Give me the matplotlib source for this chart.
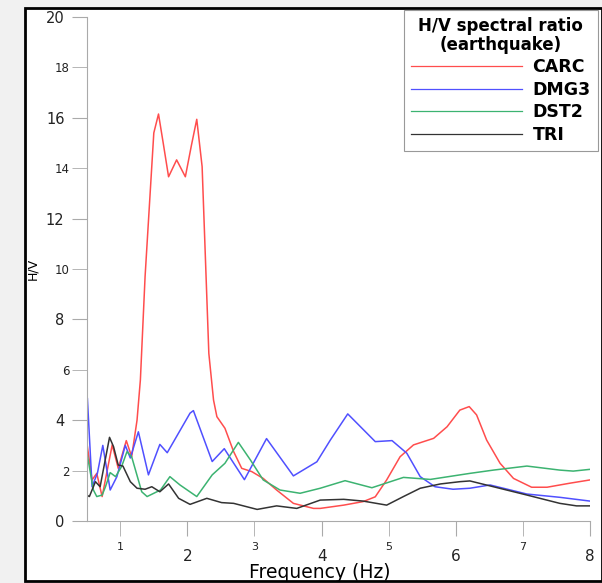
import numpy as np
import matplotlib.pyplot as plt
from matplotlib.patches import Rectangle

# H/V spectral ratio curves
carc_f = [0.5, 0.58, 0.65, 0.73, 0.88, 0.97, 1.09, 1.17, 1.25, 1.30, 1.37, 1.50, 1.57, 1.64, 1.72,
          1.84, 1.97, 2.06, 2.14, 2.22, 2.32, 2.39, 2.44, 2.56, 2.69, 2.81, 2.96, 3.13, 3.33, 3.58,
          3.88, 3.98, 4.33, 4.62, 4.80, 4.97, 5.17, 5.37, 5.67, 5.87, 6.06, 6.20, 6.31, 6.46, 6.66,
          6.86, 7.13, 7.36, 7.70, 8.0]
carc_v = [3.15, 1.63, 1.89, 0.97, 3.02, 2.09, 3.19, 2.55, 4.0, 5.6, 9.7, 15.4, 16.15, 15.0, 13.66,
          14.33, 13.66, 14.9, 15.94, 14.06, 6.65, 4.8, 4.14, 3.68, 2.75, 2.09, 1.96, 1.69, 1.23, 0.70,
          0.50, 0.50, 0.63, 0.77, 0.96, 1.63, 2.55, 3.02, 3.28, 3.74, 4.40, 4.54, 4.21, 3.21, 2.29,
          1.69, 1.34, 1.34, 1.5, 1.63]

dmg3_f = [0.5, 0.51, 0.58, 0.66, 0.74, 0.85, 0.95, 1.075, 1.15, 1.27, 1.42, 1.59, 1.70, 2.04, 2.09,
          2.37, 2.55, 2.85, 3.18, 3.58, 3.93, 4.13, 4.39, 4.80, 5.05, 5.27, 5.47, 5.69, 5.96, 6.21,
          6.51, 7.06, 7.55, 8.0]
dmg3_v = [3.94, 4.88, 1.36, 1.9, 3.0, 1.23, 1.76, 3.0, 2.5, 3.54, 1.83, 3.04, 2.71, 4.28, 4.38,
          2.36, 2.87, 1.64, 3.27, 1.79, 2.35, 3.21, 4.25, 3.15, 3.19, 2.69, 1.76, 1.36, 1.26, 1.30,
          1.43, 1.07, 0.94, 0.79]

dst2_f = [0.5, 0.60, 0.65, 0.73, 0.78, 0.85, 0.93, 1.02, 1.10, 1.17, 1.32, 1.40, 1.60, 1.74, 1.89,
          2.14, 2.37, 2.56, 2.76, 2.94, 3.13, 3.38, 3.68, 3.98, 4.35, 4.75, 5.22, 5.62, 6.21, 6.56,
          7.06, 7.55, 7.75, 8.0]
dst2_v = [2.75, 1.23, 0.97, 1.03, 1.36, 1.92, 1.76, 2.16, 2.75, 2.55, 1.16, 0.97, 1.23, 1.76, 1.43,
          0.97, 1.83, 2.29, 3.12, 2.42, 1.63, 1.23, 1.10, 1.30, 1.60, 1.32, 1.73, 1.65, 1.89, 2.02,
          2.18, 2.02, 1.98, 2.05]

tri_f = [0.5, 0.54, 0.63, 0.70, 0.84, 0.90, 0.97, 1.04, 1.15, 1.25, 1.37, 1.47, 1.59, 1.72, 1.87,
         2.04, 2.29, 2.51, 2.69, 3.04, 3.33, 3.63, 3.98, 4.33, 4.62, 4.97, 5.22, 5.47, 5.77, 6.06,
         6.21, 6.56, 7.06, 7.55, 7.80, 8.0]
tri_v = [1.03, 0.97, 1.56, 1.36, 3.32, 2.95, 2.22, 2.18, 1.56, 1.30, 1.26, 1.36, 1.16, 1.47, 0.90,
         0.66, 0.90, 0.73, 0.70, 0.46, 0.60, 0.50, 0.83, 0.86, 0.79, 0.63, 0.97, 1.30, 1.47, 1.56,
         1.59, 1.36, 1.03, 0.70, 0.60, 0.60]

fig = plt.figure(figsize=(6.02, 5.83), dpi=100, facecolor='#f1f1f1')
frame = Rectangle((25 / 602, 1 - 581 / 583), 577 / 602, 573 / 583, transform=fig.transFigure,
                  facecolor='white', edgecolor='black', linewidth=2, zorder=-5)
fig.add_artist(frame)

ax = fig.add_axes([86.7 / 602, 1 - 521 / 583, (590 - 86.7) / 602, 504 / 583])
ax.set_facecolor('none')
ax.set_zorder(2)

ax.plot(carc_f, carc_v, color='#ff4d4d', lw=1.1, label='CARC')
ax.plot(dmg3_f, dmg3_v, color='#5050ff', lw=1.1, label='DMG3')
ax.plot(dst2_f, dst2_v, color='#3cb371', lw=1.1, label='DST2')
ax.plot(tri_f, tri_v, color='#333333', lw=1.1, label='TRI')

ax.set_xlim(0.5, 8)
ax.set_ylim(0, 20)
for s in ['top', 'right']:
    ax.spines[s].set_visible(False)
for s in ['left', 'bottom']:
    ax.spines[s].set_color('#aaaaaa')

ax.set_xticks([2, 4, 6, 8])
ax.set_xticks([1, 3, 5, 7], minor=True)
ax.set_xticklabels(['2', '4', '6', '8'])
ax.set_xticklabels(['1', '3', '5', '7'], minor=True)
ax.set_yticks([0, 4, 8, 12, 16, 20])
ax.set_yticks([2, 6, 10, 14, 18], minor=True)
ax.set_yticklabels(['0', '4', '8', '12', '16', '20'])
ax.set_yticklabels(['2', '6', '10', '14', '18'], minor=True)

ax.tick_params(axis='x', which='major', length=11, color='#aaaaaa', labelsize=11, pad=9, labelcolor='#222222')
ax.tick_params(axis='x', which='minor', length=11, color='#aaaaaa', labelsize=8, pad=4, labelcolor='#222222')
ax.tick_params(axis='y', which='major', length=11, color='#aaaaaa', labelsize=10.5, pad=5, labelcolor='#222222')
ax.tick_params(axis='y', which='minor', length=11, color='#aaaaaa', labelsize=8.5, pad=1, labelcolor='#222222')

ax.set_xlabel('Frequency (Hz)', fontsize=13.5)
ax.xaxis.set_label_coords((320 - 86.7) / 503.3, -0.083)
ax.set_ylabel('H/V', fontsize=9)
ax.yaxis.set_label_coords(-0.095, 0.5)

leg = ax.legend(title='H/V spectral ratio\n(earthquake)', loc='upper left',
                bbox_to_anchor=(404 / 602, 1 - 10 / 583), bbox_transform=fig.transFigure,
                borderaxespad=0, fancybox=False, edgecolor='#999999', framealpha=1,
                handlelength=6.4, handletextpad=0.6, labelspacing=0.26, borderpad=0.4,
                prop={'weight': 'bold', 'size': 12.5},
                title_fontproperties={'weight': 'bold', 'size': 12})
leg.get_title().set_multialignment('center')
leg.get_title().set_linespacing(1.05)
leg.get_frame().set_linewidth(0.8)
for line in leg.get_lines():
    line.set_linewidth(0.9)

fig.savefig('out.png', dpi=100, facecolor=fig.get_facecolor())
